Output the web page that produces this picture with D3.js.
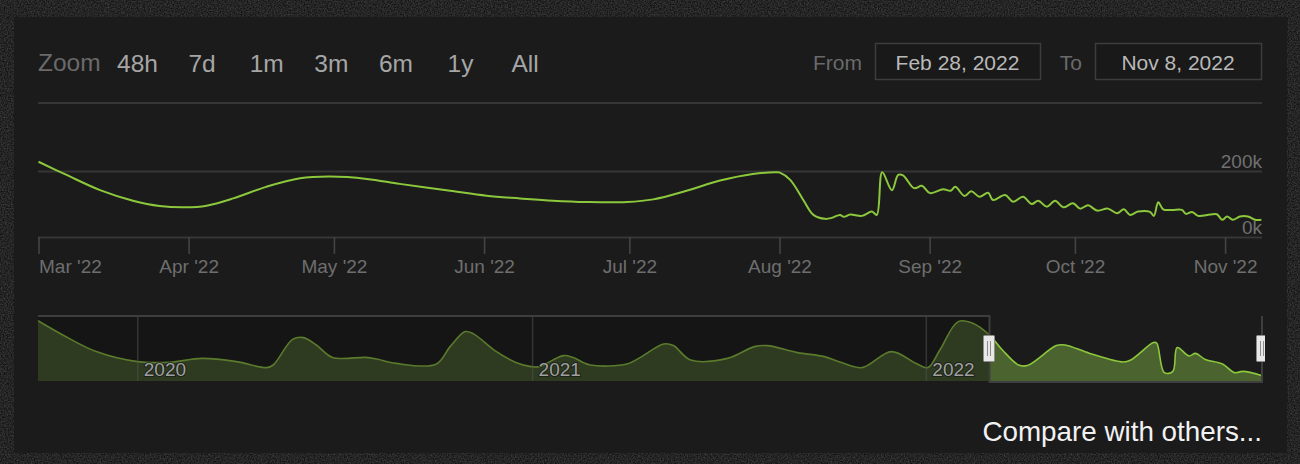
<!DOCTYPE html>
<html>
<head>
<meta charset="utf-8">
<script src="https://cdn.jsdelivr.net/npm/d3@7/dist/d3.min.js"></script>
<style>
  html, body { margin: 0; padding: 0; background: #131313; }
  svg { display: block; font-family: "Liberation Sans", Arial, Helvetica, sans-serif; }
</style>
</head>
<body>
<svg id="chart" width="1300" height="464"></svg>
<script>
// ---------------- DATA ----------------
const zoomButtons = ["48h", "7d", "1m", "3m", "6m", "1y", "All"];
const fromLabel = "Feb 28, 2022";
const toLabel = "Nov 8, 2022";

const mainDates = [
  "2022-03-01T00","2022-03-06T19","2022-03-13T17","2022-03-20T12","2022-03-26T00","2022-03-31T07",
  "2022-04-04T17","2022-04-10T05","2022-04-17T00","2022-04-24T00","2022-04-30T05","2022-05-07T19",
  "2022-05-14T14","2022-05-25T00","2022-06-01T12","2022-06-08T10","2022-06-15T05","2022-06-22T05",
  "2022-06-30T12","2022-07-05T22","2022-07-12T19","2022-07-19T17","2022-07-26T12","2022-07-31T10",
  "2022-08-01T02","2022-08-03T05","2022-08-05T22","2022-08-08T00","2022-08-10T10","2022-08-11T19",
  "2022-08-13T12","2022-08-14T07","2022-08-15T14","2022-08-18T00","2022-08-20T02","2022-08-21T02",
  "2022-08-22T05","2022-08-24T05","2022-08-25T12","2022-08-26T12","2022-08-28T19","2022-08-30T10",
  "2022-09-01T02","2022-09-03T19","2022-09-05T07","2022-09-06T07","2022-09-08T05","2022-09-09T14",
  "2022-09-11T07","2022-09-13T02","2022-09-14T02","2022-09-16T14","2022-09-18T05","2022-09-20T07",
  "2022-09-22T02","2022-09-23T10","2022-09-25T05","2022-09-26T22","2022-09-28T14","2022-09-30T14",
  "2022-10-02T02","2022-10-03T17","2022-10-05T14","2022-10-07T19","2022-10-09T17","2022-10-11T02",
  "2022-10-12T10","2022-10-14T00","2022-10-16T12","2022-10-17T07","2022-10-18T05","2022-10-19T05",
  "2022-10-21T02","2022-10-23T02","2022-10-23T22","2022-10-25T05","2022-10-26T10","2022-10-28T22",
  "2022-10-30T07","2022-10-31T10","2022-11-01T10","2022-11-02T14","2022-11-04T02","2022-11-05T17",
  "2022-11-07T05","2022-11-08T12"
];
const mainValues = [
  228000,188000,142000,110000,94000,90000,
  95000,117000,152000,178000,183000,176000,
  161000,140000,125000,117000,110000,106000,
  106000,114000,140000,171000,191000,196000,
  195000,173000,112000,67000,55000,58000,
  67000,61000,68000,64000,77000,67000,
  196000,142000,188000,187000,148000,155000,
  133000,145000,140000,152000,124000,139000,
  122000,134000,112000,127000,107000,122000,
  100000,110000,92000,110000,90000,102000,
  86000,96000,80000,86000,72000,84000,
  67000,77000,76000,64000,105000,84000,
  82000,82000,70000,76000,64000,68000,
  69000,52000,62000,52000,62000,62000,
  52000,52000
];

const navDates = [
  "2019-10-01","2019-10-24","2019-11-24","2020-01-01","2020-01-31","2020-03-01","2020-04-02",
  "2020-04-30","2020-05-06","2020-05-24","2020-06-03","2020-06-15","2020-06-30","2020-07-31",
  "2020-08-10","2020-08-28","2020-10-04","2020-10-17","2020-10-31","2020-11-07","2020-11-29",
  "2020-12-17","2020-12-31","2021-01-08","2021-01-30","2021-02-08","2021-02-24","2021-03-30",
  "2021-04-11","2021-05-03","2021-05-12","2021-05-28","2021-07-01","2021-07-26","2021-08-07",
  "2021-09-04","2021-09-29","2021-10-14","2021-11-03","2021-11-30","2021-12-23","2022-01-03",
  "2022-01-14","2022-01-31","2022-02-14","2022-03-01","2022-03-13","2022-03-28","2022-04-05",
  "2022-05-02","2022-05-10","2022-06-02","2022-07-03","2022-07-10","2022-07-31","2022-08-03",
  "2022-08-10","2022-08-18","2022-08-22","2022-09-02","2022-09-08","2022-09-17","2022-10-03",
  "2022-10-14","2022-10-22","2022-11-08"
];
const navValues = [
  301000,230000,147000,97000,94000,113000,97000,
  67000,80000,208000,217000,180000,118000,118000,
  110000,88000,84000,172000,247000,238000,147000,
  93000,72000,72000,127000,117000,80000,85000,
  117000,185000,177000,105000,113000,172000,177000,
  142000,122000,94000,67000,147000,88000,67000,
  155000,297000,288000,230000,155000,80000,77000,
  177000,180000,138000,95000,105000,192000,190000,
  42000,48000,167000,125000,138000,108000,85000,
  42000,48000,28000
];

const yTickValues = [0, 200000];
const yTickLabels = ["0k", "200k"];

// ---------------- SETUP ----------------
const svg = d3.select("#chart");
const parseH = d3.utcParse("%Y-%m-%dT%H");
const parseD = d3.utcParse("%Y-%m-%d");
const mainData = mainDates.map((d, i) => ({ date: parseH(d), value: mainValues[i] }));
const navData = navDates.map((d, i) => ({ date: parseD(d), value: navValues[i] }));

const defs = svg.append("defs");
const noise = defs.append("filter").attr("id", "noise").attr("x", 0).attr("y", 0).attr("width", "100%").attr("height", "100%");
noise.append("feTurbulence").attr("type", "fractalNoise").attr("baseFrequency", 0.7).attr("numOctaves", 2).attr("seed", 3);
noise.append("feColorMatrix").attr("type", "matrix")
  .attr("values", "0 0 0 0 0.35  0 0 0 0 0.35  0 0 0 0 0.35  0 0 0 0.6 -0.12");

// outer textured background
svg.append("rect").attr("width", 1300).attr("height", 464).attr("fill", "#111111");
svg.append("rect").attr("width", 1300).attr("height", 464).attr("filter", "url(#noise)").attr("opacity", 0.8);

// panel
svg.append("rect").attr("x", 14).attr("y", 17).attr("width", 1273).attr("height", 436).attr("fill", "#1b1b1b");

const plotL = 38, plotR = 1262;

// ---------------- TOP CONTROLS ----------------
svg.append("text").attr("x", 38).attr("y", 71).attr("font-size", 24.5).attr("fill", "#6a6a6a").text("Zoom");
svg.append("g").selectAll("text").data(zoomButtons).join("text")
  .attr("x", (d, i) => 137.5 + i * 64.6).attr("y", 72)
  .attr("text-anchor", "middle").attr("font-size", 24.5).attr("fill", "#a6a6a6").text(d => d);

svg.append("text").attr("x", 862).attr("y", 70).attr("text-anchor", "end").attr("font-size", 21).attr("fill", "#6a6a6a").text("From");
svg.append("text").attr("x", 1082).attr("y", 70).attr("text-anchor", "end").attr("font-size", 21).attr("fill", "#6a6a6a").text("To");
[[875, 1040, fromLabel], [1095, 1261, toLabel]].forEach(([a, b, t]) => {
  svg.append("rect").attr("x", a + 0.5).attr("y", 43.5).attr("width", b - a).attr("height", 36)
    .attr("fill", "#191919").attr("stroke", "#3c3c3c").attr("stroke-width", 1.5);
  svg.append("text").attr("x", (a + b) / 2).attr("y", 70).attr("text-anchor", "middle")
    .attr("font-size", 21).attr("fill", "#b9b9b9").text(t);
});

// separator
svg.append("line").attr("x1", plotL).attr("x2", plotR).attr("y1", 103).attr("y2", 103)
  .attr("stroke", "#363636").attr("stroke-width", 2);

// ---------------- MAIN CHART ----------------
const x = d3.scaleUtc()
  .domain([Date.UTC(2022, 2, 1), Date.UTC(2022, 10, 8, 15)])
  .range([plotL + 0.5, plotR]);
const y = d3.scaleLinear().domain([0, 200000]).range([237, 171]);

// y grid + labels
const yAxis = d3.axisRight(y).tickValues(yTickValues).tickSize(-(plotR - plotL))
  .tickFormat(d => yTickLabels[yTickValues.indexOf(d)]);
const gy = svg.append("g").attr("transform", `translate(${plotR},0)`).call(yAxis);
gy.select(".domain").remove();
gy.selectAll(".tick line").attr("stroke", "#363636").attr("stroke-width", 2);
gy.selectAll(".tick text").attr("x", 0).attr("dy", 0).attr("y", -4)
  .attr("text-anchor", "end").attr("font-size", 19).attr("fill", "#707070")
  .attr("font-family", "Liberation Sans, Arial, sans-serif");

// x axis
const xAxis = d3.axisBottom(x).ticks(d3.utcMonth.every(1)).tickSize(17)
  .tickFormat(d3.utcFormat("%b '%y"));
const gx = svg.append("g").attr("transform", "translate(0,237)").call(xAxis);
gx.select(".domain").remove();
gx.selectAll(".tick line").attr("stroke", "#444").attr("stroke-width", 1.6);
gx.selectAll(".tick text").attr("y", 36).attr("dy", 0).attr("font-size", 19).attr("fill", "#6e6e6e")
  .attr("font-family", "Liberation Sans, Arial, sans-serif");
gx.selectAll(".tick text").filter((d, i) => i === 0).attr("text-anchor", "start").attr("x", 0);

// main line
defs.append("clipPath").attr("id", "plotClip").append("rect")
  .attr("x", plotL).attr("y", 100).attr("width", plotR - plotL).attr("height", 150);
const line = d3.line().x(d => x(d.date)).y(d => y(d.value)).curve(d3.curveCatmullRom.alpha(0.5));
svg.append("path").datum(mainData).attr("d", line).attr("fill", "none")
  .attr("stroke", "#8cc83c").attr("stroke-width", 2).attr("clip-path", "url(#plotClip)");

// ---------------- NAVIGATOR ----------------
const navTop = 316, navBot = 381;
const nx = d3.scaleUtc().domain([Date.UTC(2019, 9, 1), Date.UTC(2022, 10, 8, 15)]).range([plotL, plotR]);
const ny = d3.scaleLinear().domain([0, 325000]).range([navBot, navTop]);
const selA = nx(x.domain()[0]), selB = nx(x.domain()[1]);

// darker mask background for unselected region
svg.append("rect").attr("x", plotL).attr("y", navTop).attr("width", selA - plotL).attr("height", navBot - navTop)
  .attr("fill", "#151515");

defs.append("clipPath").attr("id", "navOut").append("rect")
  .attr("x", plotL).attr("y", navTop - 5).attr("width", selA - plotL).attr("height", navBot - navTop + 5);
defs.append("clipPath").attr("id", "navIn").append("rect")
  .attr("x", selA).attr("y", navTop - 5).attr("width", selB - selA).attr("height", navBot - navTop + 5);

const navCurve = d3.curveCatmullRom.alpha(0.5);
const area = d3.area().x(d => nx(d.date)).y0(navBot).y1(d => ny(d.value)).curve(navCurve);
const nline = d3.line().x(d => nx(d.date)).y(d => ny(d.value)).curve(navCurve);

svg.append("path").datum(navData).attr("d", area).attr("fill", "#2e3b21").attr("clip-path", "url(#navOut)");
svg.append("path").datum(navData).attr("d", nline).attr("fill", "none").attr("stroke", "#5b7b2c")
  .attr("stroke-width", 1.6).attr("clip-path", "url(#navOut)");
svg.append("path").datum(navData).attr("d", area).attr("fill", "#4a632f").attr("clip-path", "url(#navIn)");
svg.append("path").datum(navData).attr("d", nline).attr("fill", "none").attr("stroke", "#8cc83c")
  .attr("stroke-width", 1.6).attr("clip-path", "url(#navIn)");

// year grid + labels
const navAxis = d3.axisBottom(nx).ticks(d3.utcYear.every(1)).tickSize(-(navBot - navTop))
  .tickFormat(d3.utcFormat("%Y"));
const gn = svg.append("g").attr("transform", `translate(0,${navBot})`).call(navAxis);
gn.select(".domain").remove();
gn.selectAll(".tick line").attr("stroke", "#505050").attr("stroke-opacity", 0.55).attr("stroke-width", 1.5);
gn.selectAll(".tick text").attr("x", 6).attr("y", -5).attr("dy", 0).attr("text-anchor", "start")
  .attr("font-size", 19).attr("fill", "#a0a0a0")
  .attr("font-family", "Liberation Sans, Arial, sans-serif")
  .style("paint-order", "stroke").attr("stroke", "#111").attr("stroke-width", 2).attr("stroke-opacity", 0.6);

// outline
svg.append("path")
  .attr("d", `M${plotL},${navTop}H${selA}V${navBot + 1}H${selB}V${navTop}`)
  .attr("fill", "none").attr("stroke", "#3e3e3e").attr("stroke-width", 2);

// handles
defs.append("clipPath").attr("id", "handleClip").append("rect")
  .attr("x", 0).attr("y", 0).attr("width", 1265).attr("height", 464);
const hg = svg.append("g").attr("clip-path", "url(#handleClip)");
[selA, selB].forEach(cx => {
  const g = hg.append("g").attr("transform", `translate(${Math.round(cx)},0)`);
  g.append("rect").attr("x", -5.5).attr("y", 335.5).attr("width", 11).attr("height", 26).attr("rx", 1)
    .attr("fill", "#e8e8e8").attr("stroke", "#8c8c8c").attr("stroke-width", 1);
  g.append("line").attr("x1", -1.5).attr("x2", -1.5).attr("y1", 341).attr("y2", 356).attr("stroke", "#8c8c8c");
  g.append("line").attr("x1", 1.5).attr("x2", 1.5).attr("y1", 341).attr("y2", 356).attr("stroke", "#8c8c8c");
});

// compare link
svg.append("text").attr("x", 1262).attr("y", 441).attr("text-anchor", "end")
  .attr("font-size", 27.8).attr("fill", "#f2f2f2").text("Compare with others...");
</script>
</body>
</html>
